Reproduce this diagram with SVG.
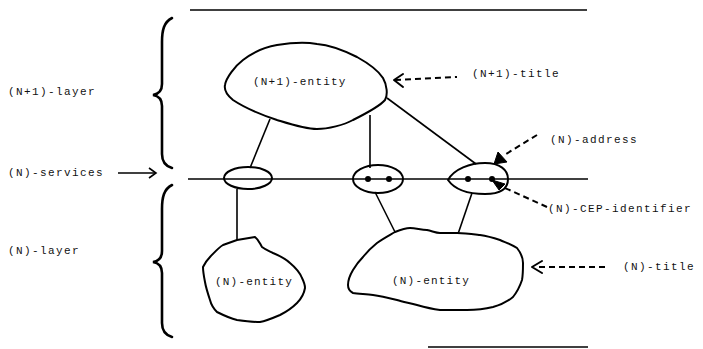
<svg xmlns="http://www.w3.org/2000/svg" width="703" height="349" viewBox="0 0 703 349">
<style>
.t{font-family:"Liberation Mono","DejaVu Sans Mono",monospace;font-size:11px;fill:#111;letter-spacing:1.4px}
.e{letter-spacing:1.2px}
.ln{stroke:#000;stroke-width:1.6;fill:none}
.blob{stroke:#000;stroke-width:2;fill:#fff;stroke-linejoin:round}
.br{stroke:#000;stroke-width:2.6;fill:none;stroke-linecap:round}
.dash{stroke:#000;stroke-width:2;fill:none;stroke-dasharray:6 4}
.head{stroke:#000;stroke-width:2;fill:none;stroke-linecap:round;stroke-linejoin:round}
.fh{fill:#000;stroke:#000;stroke-width:1}
.dot{fill:#000}
</style>
<rect width="703" height="349" fill="#fff"/>
<g id="frame">
<line class="ln" x1="190" y1="10" x2="587" y2="10"/>
<line class="ln" x1="428" y1="347" x2="588" y2="347"/>
</g>
<g id="braces">
<path class="br" d="M172,18 C164,22 162,30 162,42 L162,84 C162,91 159,94 153,95 C159,96 162,99 162,106 L162,154 C162,162 165,166 172,168"/>
<path class="br" d="M172,185 C164,189 162,197 162,209 L162,251 C162,258 159,261 153,262 C159,263 162,266 162,273 L162,323 C162,331 165,335 172,337"/>
</g>
<g id="labels">
<text class="t" x="8" y="95">(N+1)-layer</text>
<text class="t" x="8" y="176">(N)-services</text>
<text class="t" x="8" y="254">(N)-layer</text>
<text class="t" x="472" y="77">(N+1)-title</text>
<text class="t" x="550" y="143">(N)-address</text>
<text class="t" x="548" y="212">(N)-CEP-identifier</text>
<text class="t" x="623" y="270">(N)-title</text>
</g>
<g id="connectors">
<line class="ln" x1="188" y1="179" x2="588" y2="179"/>
<line class="ln" x1="270" y1="119" x2="250" y2="168"/>
<line class="ln" x1="370" y1="115" x2="370" y2="168"/>
<line class="ln" x1="387" y1="98" x2="476" y2="164"/>
<line class="ln" x1="237" y1="189" x2="237" y2="241"/>
<line class="ln" x1="375" y1="192" x2="395" y2="232"/>
<line class="ln" x1="472" y1="193" x2="458" y2="234"/>
<line class="ln" x1="118" y1="173" x2="155" y2="173"/>
<path class="ln" d="M149,168 L156,173 L149,178"/>
<path class="dash" d="M395,80 L457,77"/>
<path class="head" d="M403,74 L394,80 L403,87"/>
<path class="dash" d="M537,135 L506,154"/>
<polygon class="fh" points="498,152 494,164 507,162"/>
<path class="dash" d="M547,207 L505,188"/>
<polygon class="fh" points="492,180 505,184 499,190"/>
<path class="dash" d="M605,267 L535,267"/>
<path class="head" d="M542,261 L532,267 L542,273"/>
</g>
<g id="n1-entity">
<path class="blob" d="M225,85 C226,78 235,66 243,60 C252,53 265,47 277,45 C290,43 305,42 317,44 C330,45 345,51 357,57 C366,62 378,70 383,78 C387,85 388,95 385,100 C380,106 365,114 353,120 C344,125 328,129 317,129 C305,129 290,124 277,120 C265,116 245,108 233,100 C228,96 224,90 225,85 Z"/>
<text class="t e" x="253" y="85">(N+1)-entity</text>
</g>
<g id="sap1">
<ellipse class="blob" cx="248" cy="178" rx="24" ry="11" style="fill:none"/>
</g>
<g id="sap2">
<ellipse class="blob" cx="378" cy="179" rx="25" ry="14" style="fill:none"/>
<circle class="dot" cx="368" cy="179" r="3"/>
<circle class="dot" cx="389" cy="179" r="3"/>
</g>
<g id="sap3">
<path class="blob" style="fill:none" d="M448,180 C454,169 470,163 485,163 C500,163 508,170 508,179 C508,189 500,194 485,194 C468,194 455,190 448,180 Z"/>
<circle class="dot" cx="468" cy="179" r="3"/>
<circle class="dot" cx="492" cy="179" r="3"/>
</g>
<g id="n-entity-left">
<path class="blob" d="M223,245 L237,240 L255,237 C259,240 260,244 262,247 C266,250 269,251 273,253 C280,256 286,259 290,263 C296,268 300,273 302,278 C304,282 305,285 305,288 C304,294 301,299 297,303 C292,308 286,312 280,315 C273,318 266,321 260,322 C252,322 244,321 237,320 C229,318 223,315 217,312 C213,308 211,304 210,300 C208,294 206,288 205,282 C204,277 203,272 203,267 C205,263 207,260 210,257 C214,253 218,248 223,245 Z"/>
<text class="t e" x="215" y="285">(N)-entity</text>
</g>
<g id="n-entity-right">
<path class="blob" d="M377,243 C384,238 390,235 395,232 C400,230 405,228 410,228 C416,228 421,230 427,230 C432,231 436,233 440,233 C446,233 451,233 457,233 C465,233 472,234 480,235 C487,236 494,238 500,240 C507,243 513,245 517,248 C521,253 523,258 523,263 C523,269 523,275 522,280 C520,286 517,292 513,297 C507,302 500,305 493,307 C485,309 476,310 467,310 C458,310 449,310 440,310 C432,309 424,307 417,305 C410,303 403,302 397,300 C389,298 381,296 373,295 C366,294 358,294 353,293 C349,291 348,288 348,285 C348,280 350,275 353,270 C356,265 359,261 363,257 C367,252 372,247 377,243 Z"/>
<text class="t e" x="392" y="284">(N)-entity</text>
</g>
</svg>
